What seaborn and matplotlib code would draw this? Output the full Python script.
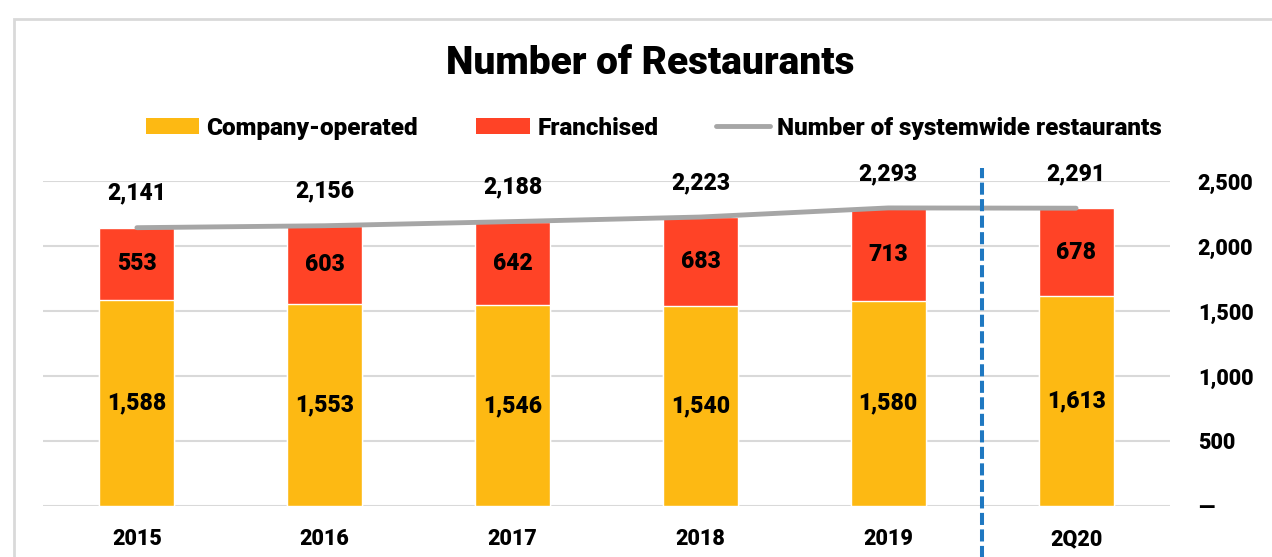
import matplotlib.pyplot as plt
import seaborn as sns
import numpy as np
import pandas as pd
from matplotlib.patches import Patch, Rectangle
from matplotlib.lines import Line2D

periods = ["2015", "2016", "2017", "2018", "2019", "2Q20"]
company_operated = [1588, 1553, 1546, 1540, 1580, 1613]
franchised = [553, 603, 642, 683, 713, 678]
systemwide = [2141, 2156, 2188, 2223, 2293, 2291]
ytick_values = [0, 500, 1000, 1500, 2000, 2500]
ytick_labels = ["—", "500", "1,000", "1,500", "2,000", "2,500"]

YELLOW = "#FDB913"
RED = "#FF4326"
GREY_LINE = "#A6A6A6"
GRID = "#D9D9D9"

sns.set_style("white")
plt.rcParams["font.family"] = ["Roboto", "DejaVu Sans"]
plt.rcParams["text.color"] = "black"
plt.rcParams["xtick.color"] = "black"
plt.rcParams["ytick.color"] = "black"

df = pd.DataFrame({
    "period": periods,
    "company": company_operated,
    "franchised": franchised,
    "systemwide": systemwide,
})
df["stack_top"] = df["company"] + df["franchised"]

fig = plt.figure(figsize=(12.72, 5.57), dpi=100)
ax = fig.add_axes([0.0338, 0.0916, 0.886, 0.5834])

# stacked bars: full stack in red, company-operated over it in yellow
sns.barplot(data=df, x="period", y="stack_top", color=RED, width=0.4,
            saturation=1, ax=ax, zorder=2)
sns.barplot(data=df, x="period", y="company", color=YELLOW, width=0.4,
            saturation=1, ax=ax, zorder=3)

xpos = np.arange(len(periods))
sns.lineplot(x=xpos, y=df["systemwide"], color=GREY_LINE, linewidth=3.5,
             ax=ax, zorder=4)

for i in range(len(periods)):
    c = company_operated[i]
    f = franchised[i]
    ax.text(i, c / 2, f"{c:,}", ha="center", va="center",
            fontsize=16.5, fontweight="black", zorder=5)
    ax.text(i, c + f / 2, f"{f:,}", ha="center", va="center",
            fontsize=16.5, fontweight="black", zorder=5)
    ax.text(i, systemwide[i] + 265, f"{systemwide[i]:,}", ha="center",
            va="center", fontsize=16.5, fontweight="black", clip_on=False)

# divider between annual and quarter-to-date figures
ax.axvline(4.5, ymin=-0.2, ymax=1.04, color="#1F78C1", linestyle=(0, (3, 1.1)),
           linewidth=2.9, clip_on=False, zorder=6)

ax.set_xlim(-0.5, 5.5)
ax.set_ylim(0, 2500)
ax.set_yticks(ytick_values)
ax.set_yticklabels(ytick_labels)
ax.yaxis.tick_right()
ax.grid(axis="y", color=GRID, linewidth=1.5, zorder=0)
ax.set_axisbelow(True)
ax.tick_params(axis="both", length=0, labelsize=15.5)
ax.tick_params(axis="y", pad=20)
ax.tick_params(axis="x", pad=16)
for lab in ax.get_xticklabels() + ax.get_yticklabels():
    lab.set_fontweight("black")
for lab in ax.get_yticklabels():
    lab.set_horizontalalignment("left")
ax.set_xlabel("")
ax.set_ylabel("")
sns.despine(ax=ax, left=True, bottom=True)

fig.text(0.511, 0.886, "Number of Restaurants", ha="center", va="center",
         fontsize=28, fontweight="black")

handles = [
    Patch(facecolor=YELLOW, edgecolor="none"),
    Patch(facecolor=RED, edgecolor="none"),
    Line2D([0], [0], color=GREY_LINE, linewidth=3.5),
]
fig.legend(handles, ["Company-operated", "Franchised", "Number of systemwide restaurants"],
           loc="center", bbox_to_anchor=(0.514, 0.77), ncol=3, frameon=False,
           handlelength=2.2, handleheight=0.6, handletextpad=0.3, columnspacing=2.4,
           prop={"size": 17.5, "weight": "black"})

fig.patches.append(Rectangle((14 / 1272, -0.1), 1.2, 1 - 19 / 557 + 0.1,
                             transform=fig.transFigure, fill=False,
                             edgecolor="#D9D9D9", linewidth=2))

fig.savefig("out.png", dpi=100)
